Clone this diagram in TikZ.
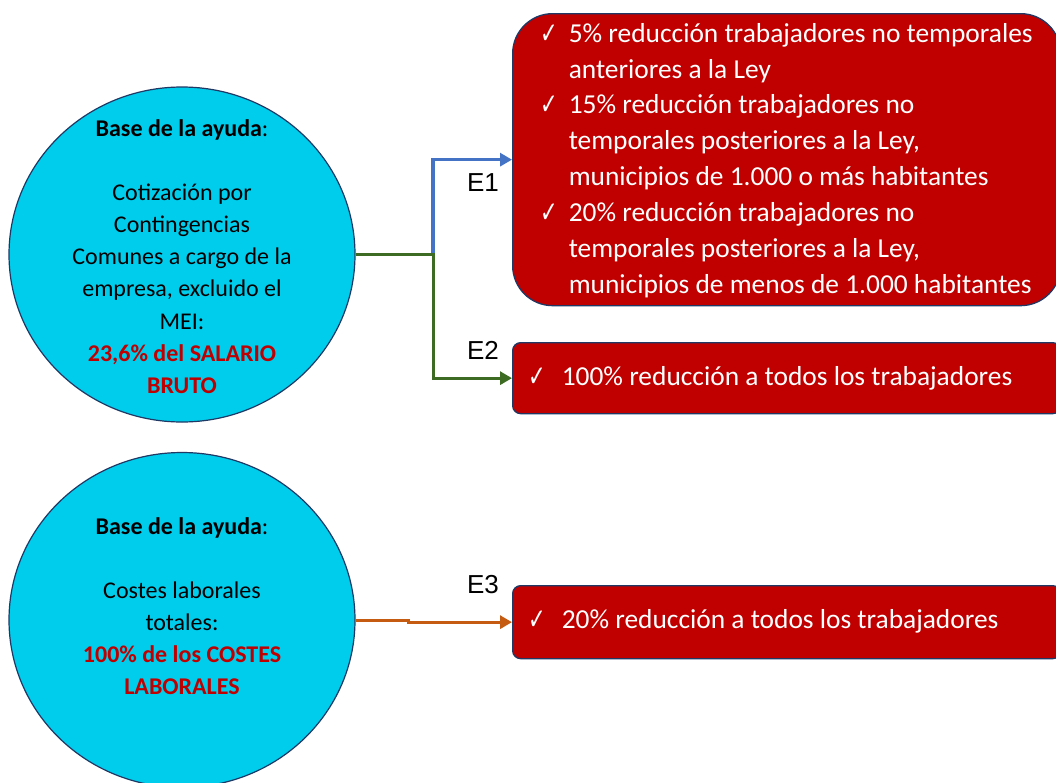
\documentclass[tikz,border=0pt]{standalone}
\usepackage{fontspec}
\usepackage{graphicx}
\setmainfont{Carlito}
\newfontfamily\arialf{Liberation Sans}
\newfontfamily\dvf{DejaVu Sans}
\usetikzlibrary{shapes.geometric,arrows.meta}
\definecolor{cyanfill}{HTML}{00CCEC}
\definecolor{navy}{HTML}{1F3864}
\definecolor{boxred}{HTML}{C00000}
\definecolor{e1blue}{HTML}{4472C4}
\definecolor{e2green}{HTML}{3E6B24}
\definecolor{e3orange}{HTML}{C55A11}
\newcommand{\ck}{\raisebox{-1pt}{\scalebox{1}[1.4]{\dvf\fontsize{21}{21}\selectfont ✓}}}
\tikzset{
  circ/.style={ellipse, fill=cyanfill, draw=navy, line width=1.2pt, minimum width=346pt, minimum height=335pt, inner sep=0pt},
  ctext/.style={align=center, inner sep=0pt, font=\fontsize{24}{32.1}\selectfont},
  redbox/.style={fill=boxred, draw=navy, line width=1.3pt, anchor=north west, inner sep=0pt},
  btext/.style={text=white, anchor=west, inner sep=0pt, font=\fontsize{27.4}{35.86}\selectfont},
  elabel/.style={font=\arialf\fontsize{26}{26}\selectfont, inner sep=0pt},
  conn/.style={line width=3pt, -{Triangle[length=12pt,width=13pt]}},
}
\begin{document}
\begin{tikzpicture}[x=1pt,y=-1pt]
\useasboundingbox (0,0) rectangle (1056,782);
\fill[white] (0,0) rectangle (1056,782);
% circles
\node[circ] (c1) at (182,254.5) {};
\node[circ] (c2) at (182,620) {};
\node[ctext] (t1) at (182,256.5) {\textbf{Base de la ayuda}:\\ \mbox{}\\ Cotización por\\ Contingencias\\ Comunes a cargo de la\\ empresa, excluido el\\ MEI:\\ \textcolor{boxred}{\textbf{23,6\% del SALARIO}}\\ \textcolor{boxred}{\textbf{BRUTO}}};
\node[ctext] (t2) at (182,606) {\textbf{Base de la ayuda}:\\ \mbox{}\\ Costes laborales\\ totales:\\ \textcolor{boxred}{\textbf{100\% de los COSTES}}\\ \textcolor{boxred}{\textbf{LABORALES}}};
% boxes
\node[redbox, rounded corners=40pt, minimum width=548pt, minimum height=292pt] (b1) at (512,13) {};
\node[redbox, rounded corners=8pt, minimum width=548pt, minimum height=71pt] (b2) at (512,342) {};
\node[redbox, rounded corners=8pt, minimum width=548pt, minimum height=73pt] (b3) at (512,585) {};
\node[btext] (bt1) at (540,160.5) {\begin{tabular}{@{}l@{\hspace{11pt}}l@{}}
\ck & 5\% reducción trabajadores no temporales\\
 & anteriores a la Ley\\
\ck & 15\% reducción trabajadores no\\
 & temporales posteriores a la Ley,\\
 & municipios de 1.000 o más habitantes\\
\ck & 20\% reducción trabajadores no\\
 & temporales posteriores a la Ley,\\
 & municipios de menos de 1.000 habitantes
\end{tabular}};
\node[btext] (bt2) at (528,378) {\ck\hspace{16pt}100\% reducción a todos los trabajadores};
\node[btext] (bt3) at (528,621) {\ck\hspace{16pt}20\% reducción a todos los trabajadores};
% labels
\node[elabel] (e1) at (483,183) {E1};
\node[elabel] (e2) at (483,350) {E2};
\node[elabel] (e3) at (483,585) {E3};
% connectors
\coordinate (j1) at (433,254.5);
\coordinate (j3) at (408,620);
\draw[conn, e1blue, line width=3.5pt] (c1.east) -- (j1) |- (b1.west);
\draw[conn, e2green] (c1.east) -- (j1) |- (b2.west);
\draw[conn, e3orange] (c2.east) -- (j3) |- (b3.west);
\end{tikzpicture}
\end{document}
